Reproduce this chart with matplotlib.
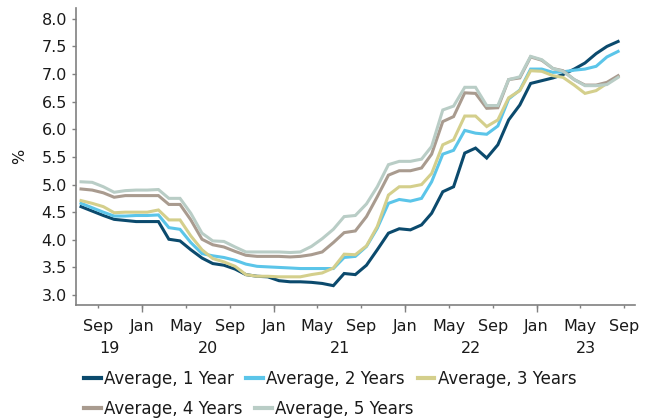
import matplotlib
matplotlib.use("Agg")
import matplotlib.pyplot as plt
import matplotlib.dates as mdates
import matplotlib.transforms as mtransforms
import pandas as pd
import numpy as np

# ---- data (monthly, Jul 2019 - Aug 2023) ----
months = pd.date_range("2019-07-01", "2023-08-01", freq="MS")

avg_1y = [4.60, 4.52, 4.44, 4.37, 4.35, 4.33, 4.33, 4.33, 4.01, 3.98,
          3.82, 3.67, 3.57, 3.54, 3.47, 3.37, 3.34, 3.33, 3.26, 3.24,
          3.24, 3.23, 3.21, 3.17, 3.39, 3.37, 3.54, 3.82, 4.12, 4.20,
          4.18, 4.27, 4.48, 4.87, 4.96, 5.57, 5.66, 5.48, 5.72, 6.17,
          6.44, 6.83, 6.88, 6.93, 6.99, 7.09, 7.20, 7.37, 7.50, 7.59]
avg_2y = [4.66, 4.58, 4.50, 4.43, 4.43, 4.44, 4.44, 4.45, 4.22, 4.19,
          3.95, 3.75, 3.71, 3.68, 3.63, 3.56, 3.52, 3.51, 3.50, 3.49,
          3.48, 3.48, 3.48, 3.48, 3.68, 3.70, 3.88, 4.21, 4.66, 4.73,
          4.70, 4.75, 5.05, 5.55, 5.62, 5.98, 5.93, 5.91, 6.06, 6.55,
          6.71, 7.09, 7.09, 7.03, 7.04, 7.07, 7.09, 7.14, 7.31, 7.41]
avg_3y = [4.71, 4.66, 4.60, 4.49, 4.50, 4.50, 4.50, 4.54, 4.36, 4.36,
          4.07, 3.82, 3.66, 3.60, 3.52, 3.37, 3.34, 3.34, 3.33, 3.33,
          3.33, 3.37, 3.40, 3.49, 3.74, 3.73, 3.89, 4.24, 4.81, 4.96,
          4.96, 5.00, 5.20, 5.72, 5.81, 6.24, 6.24, 6.05, 6.17, 6.57,
          6.70, 7.06, 7.05, 6.97, 6.94, 6.80, 6.65, 6.70, 6.83, 6.95]
avg_4y = [4.92, 4.90, 4.85, 4.77, 4.80, 4.80, 4.80, 4.80, 4.64, 4.64,
          4.36, 4.01, 3.91, 3.87, 3.79, 3.72, 3.70, 3.70, 3.70, 3.69,
          3.70, 3.73, 3.78, 3.95, 4.13, 4.16, 4.42, 4.78, 5.17, 5.25,
          5.25, 5.30, 5.55, 6.14, 6.23, 6.66, 6.65, 6.38, 6.39, 6.90,
          6.93, 7.31, 7.25, 7.10, 7.06, 6.90, 6.80, 6.80, 6.85, 6.97]
avg_5y = [5.05, 5.04, 4.96, 4.86, 4.89, 4.90, 4.90, 4.91, 4.75, 4.75,
          4.48, 4.12, 3.98, 3.97, 3.87, 3.78, 3.78, 3.78, 3.78, 3.77,
          3.78, 3.88, 4.02, 4.19, 4.42, 4.44, 4.65, 4.96, 5.36, 5.42,
          5.42, 5.46, 5.69, 6.35, 6.42, 6.76, 6.76, 6.43, 6.43, 6.90,
          6.95, 7.32, 7.26, 7.10, 7.05, 6.90, 6.79, 6.79, 6.81, 6.94]

series_labels = ["Average, 1 Year", "Average, 2 Years", "Average, 3 Years",
                 "Average, 4 Years", "Average, 5 Years"]
series_values = [avg_1y, avg_2y, avg_3y, avg_4y, avg_5y]
colors = ["#0b4a6d", "#5bc5e9", "#d4cf8c", "#a99b8f", "#b9cdc6"]

ytick_values = [3.0, 3.5, 4.0, 4.5, 5.0, 5.5, 6.0, 6.5, 7.0, 7.5, 8.0]
year_labels = ["19", "20", "21", "22", "23"]

# ---- figure ----
plt.rcParams["font.family"] = ["DejaVu Sans"]
FS = 11.5
LFS = 12
fig = plt.figure(figsize=(6.55, 4.18), dpi=100)
ax = fig.add_axes([76 / 655, 1 - 305 / 418, (635 - 76) / 655, (305 - 8.3) / 418])

x = months + pd.Timedelta(days=14)
lines = []
for vals, lab, col in zip(series_values, series_labels, colors):
    ln, = ax.plot(x, vals, color=col, lw=2.2, label=lab, solid_joinstyle="miter")
    lines.append(ln)

x0 = pd.Timestamp("2019-07-01")
x1 = pd.Timestamp("2023-10-01")
ax.set_xlim(x0, x1)
ax.set_ylim(2.82, 8.19)

spine_col = "#808080"
for s in ["top", "right"]:
    ax.spines[s].set_visible(False)
for s in ["left", "bottom"]:
    ax.spines[s].set_color(spine_col)
    ax.spines[s].set_linewidth(1.2)

ax.set_yticks(ytick_values)
ax.set_yticklabels([f"{v:.1f}" for v in ytick_values])
ax.tick_params(axis="y", length=3, width=1, color=spine_col, pad=3.5,
               labelsize=FS, labelcolor="#1a1a1a")

ax.xaxis.set_major_locator(mdates.MonthLocator(bymonth=[1, 5, 9]))
ax.xaxis.set_major_formatter(mdates.DateFormatter("%b"))
ax.xaxis.set_minor_locator(mdates.MonthLocator(bymonth=[1]))
ax.xaxis.remove_overlapping_locs = False
ax.tick_params(axis="x", which="major", length=2.5, width=1, color=spine_col,
               pad=7.5, labelsize=FS, labelcolor="#1a1a1a")
ax.tick_params(axis="x", which="minor", length=5, width=1, color=spine_col)

# year labels centred on the visible part of each year
trans = mtransforms.blended_transform_factory(ax.transData, ax.transAxes)
for lab in year_labels:
    yr = 2000 + int(lab)
    a = max(mdates.date2num(pd.Timestamp(f"{yr}-01-01")), mdates.date2num(x0))
    b = min(mdates.date2num(pd.Timestamp(f"{yr + 1}-01-01")), mdates.date2num(x1))
    ax.text((a + b) / 2, -0.148, lab, transform=trans, ha="center", va="center",
            fontsize=FS, color="#1a1a1a")

ax.set_ylabel("%", fontsize=FS, color="#1a1a1a", va="center")
ax.yaxis.set_label_coords((20 - 76) / 559, 0.5)

# legend: two flowing rows
leg_kw = dict(frameon=False, fontsize=LFS, handlelength=1.0, handletextpad=0.2,
              columnspacing=0.75, borderpad=0, borderaxespad=0, loc="center left")
leg1 = fig.legend(lines[:3], series_labels[:3], ncol=3,
                  bbox_to_anchor=(84 / 655, 1 - 378.5 / 418), **leg_kw)
leg2 = fig.legend(lines[3:], series_labels[3:], ncol=2,
                  bbox_to_anchor=(84 / 655, 1 - 408.5 / 418), **leg_kw)
for lg in (leg1, leg2):
    for t in lg.get_texts():
        t.set_color("#1a1a1a")
    for h in lg.legend_handles:
        h.set_linewidth(3)

fig.savefig("out.png", dpi=100)
